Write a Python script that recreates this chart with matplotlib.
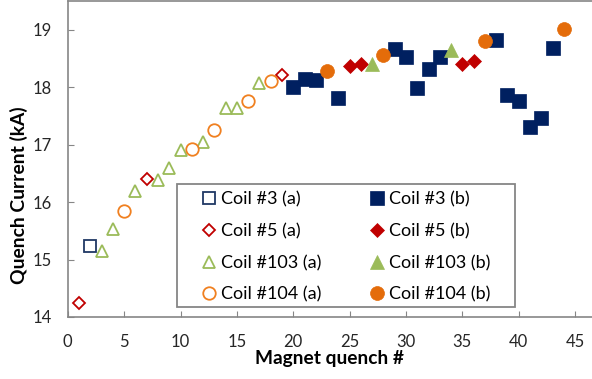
import matplotlib
matplotlib.use("Agg")
import matplotlib.pyplot as plt
from matplotlib.patches import Rectangle

plt.rcParams['font.family'] = ['Lato', 'DejaVu Sans']

# Data
c3a_x = [2]
c3a_y = [15.24]
c5a_x = [1, 7, 19]
c5a_y = [14.24, 16.40, 18.22]
c103a_x = [3, 4, 6, 8, 9, 10, 12, 14, 15, 17]
c103a_y = [15.15, 15.53, 16.19, 16.38, 16.60, 16.90, 17.04, 17.63, 17.63, 18.08]
c104a_x = [5, 11, 13, 16, 18]
c104a_y = [15.84, 16.93, 17.26, 17.76, 18.10]
c3b_x = [20, 21, 22, 24, 29, 30, 31, 32, 33, 38, 39, 40, 41, 42, 43]
c3b_y = [18.00, 18.15, 18.12, 17.81, 18.66, 18.53, 17.99, 18.31, 18.53, 18.82, 17.87, 17.76, 17.30, 17.47, 18.68]
c5b_x = [25, 26, 35, 36]
c5b_y = [18.37, 18.41, 18.41, 18.45]
c103b_x = [27, 34]
c103b_y = [18.40, 18.65]
c104b_x = [23, 28, 37, 44]
c104b_y = [18.28, 18.56, 18.80, 19.02]

xticks = [0, 5, 10, 15, 20, 25, 30, 35, 40, 45]
yticks = [14, 15, 16, 17, 18, 19]

blue = '#002060'
red = '#C00000'
green = '#9BBB59'
orange = '#E46C0A'
gray = '#868686'

fig = plt.figure(figsize=(5.92, 3.79), dpi=100)
ax = fig.add_axes([0.1145, 0.1636, 0.8855, 0.8338])

h3a, = ax.plot(c3a_x, c3a_y, ls='none', marker='s', ms=8, mfc='white', mec='#203864', mew=1.3, label='Coil #3 (a)')
h3b, = ax.plot(c3b_x, c3b_y, ls='none', marker='s', ms=9.5, mfc=blue, mec=blue, mew=0.5, label='Coil #3 (b)')
h5a, = ax.plot(c5a_x, c5a_y, ls='none', marker='D', ms=6.5, mfc='white', mec=red, mew=1.3, label='Coil #5 (a)')
h5b, = ax.plot(c5b_x, c5b_y, ls='none', marker='D', ms=7.5, mfc=red, mec=red, mew=0.5, label='Coil #5 (b)')
h103a, = ax.plot(c103a_x, c103a_y, ls='none', marker='^', ms=9, mfc='white', mec=green, mew=1.3, label='Coil #103 (a)')
h103b, = ax.plot(c103b_x, c103b_y, ls='none', marker='^', ms=10, mfc=green, mec=green, mew=0.5, label='Coil #103 (b)')
h104a, = ax.plot(c104a_x, c104a_y, ls='none', marker='o', ms=9, mfc='white', mec='#F08020', mew=1.3, label='Coil #104 (a)')
h104b, = ax.plot(c104b_x, c104b_y, ls='none', marker='o', ms=10, mfc=orange, mec=orange, mew=0.5, label='Coil #104 (b)')

ax.set_xlim(0, 46.5)
ax.set_ylim(14, 19.5)
ax.set_xticks(xticks)
ax.set_yticks(yticks)
ax.tick_params(direction='in', length=4, color=gray, labelsize=12, labelcolor='#262626')
ax.tick_params(axis='y', pad=11.5)
ax.tick_params(axis='x', pad=12)
for s in ['left', 'bottom', 'top']:
    ax.spines[s].set_color(gray)
    ax.spines[s].set_linewidth(1.2)
ax.spines['right'].set_visible(False)

ax.set_xlabel('Magnet quench #', fontsize=13.8, fontweight='bold', labelpad=0)
ax.set_ylabel('Quench Current (kA)', fontsize=13.9, fontweight='bold')
ax.yaxis.set_label_coords(-0.076, 0.386)

# legend frame
ax.add_patch(Rectangle((0.2085, 0.0316), 0.6448, 0.389, transform=ax.transAxes,
                       facecolor='white', edgecolor=gray, linewidth=1.3, zorder=4))

common = dict(loc='upper left', frameon=False, fontsize=13, handlelength=0.83,
              handletextpad=0.26, labelspacing=0.86, borderpad=0, borderaxespad=0)
leg1 = ax.legend([h3a, h5a, h103a, h104a],
                 ['Coil #3 (a)', 'Coil #5 (a)', 'Coil #103 (a)', 'Coil #104 (a)'],
                 bbox_to_anchor=(0.255, 0.397), **common)
leg1.set_zorder(5)
ax.add_artist(leg1)
leg2 = ax.legend([h3b, h5b, h103b, h104b],
                 ['Coil #3 (b)', 'Coil #5 (b)', 'Coil #103 (b)', 'Coil #104 (b)'],
                 bbox_to_anchor=(0.576, 0.397), **common)
leg2.set_zorder(5)

fig.savefig('out.png', dpi=100)
